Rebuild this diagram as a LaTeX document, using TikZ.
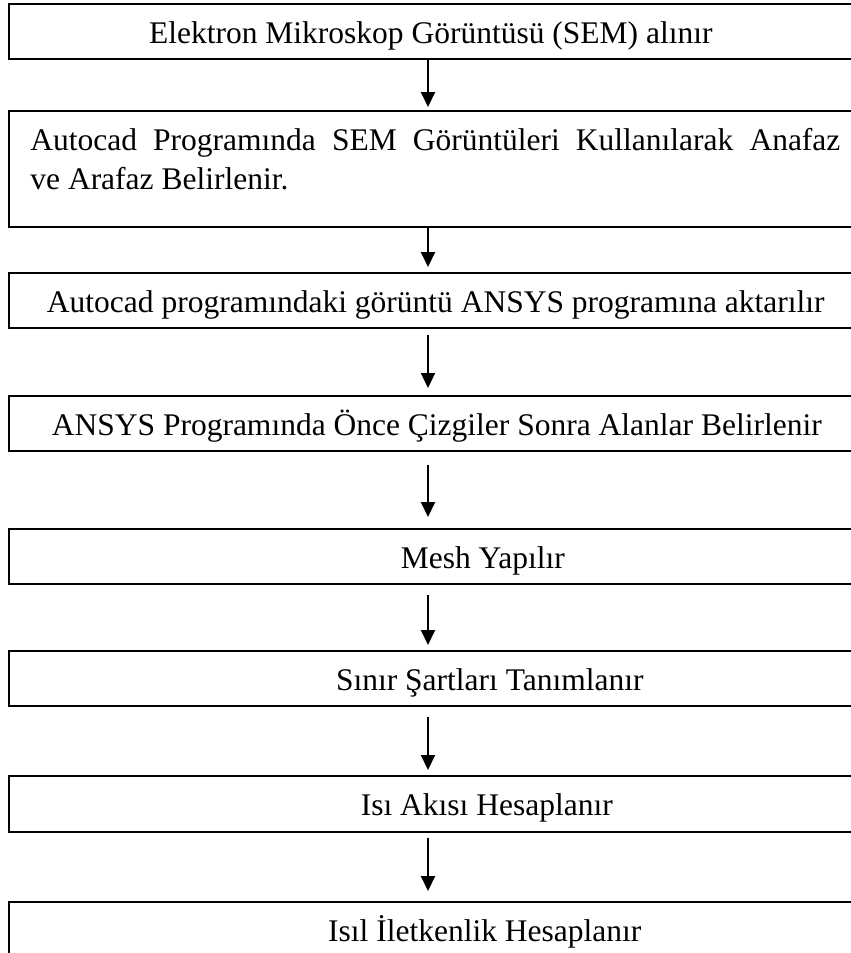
\documentclass[tikz,border=0pt]{standalone}
\usepackage{fontspec}
\setmainfont{Liberation Serif}
\usetikzlibrary{arrows.meta}

\tikzset{
  stepbox/.style={draw, line width=0.8pt, anchor=north west, inner sep=0pt,
    minimum width=426pt, minimum height=27.5pt},
  steptext/.style={anchor=base, inner sep=0pt},
  flow/.style={line width=1pt, -{Triangle[width=7pt,length=7.5pt]}}
}

\begin{document}
\begin{tikzpicture}[x=0.5pt,y=-0.5pt,font=\fontsize{15.75}{19.5}\selectfont]
    \useasboundingbox (0,0) rectangle (851,953);
    \coordinate (ax) at (428,0);
    % boxes
    \node[stepbox] (b1) at (8,3) {};
    \node[stepbox, minimum height=58pt] (b2) at (8,110) {};
    \node[stepbox] (b3) at (8,272) {};
    \node[stepbox] (b4) at (8,395) {};
    \node[stepbox] (b5) at (8,528) {};
    \node[stepbox] (b6) at (8,650) {};
    \node[stepbox, minimum height=28pt] (b7) at (8,775) {};
    \node[stepbox] (b8) at (8,901) {};
    % texts
    \node[steptext] (t1) at ([xshift=-2pt,yshift=-20pt]b1.north) {Elektron Mikroskop Görüntüsü (SEM) alınır};
    \node[anchor=north west, inner sep=0pt, text width=405pt, align=justify] (t2) at (30,128)
      {Autocad Programında SEM Görüntüleri Kullanılarak Anafaz\linebreak ve Arafaz Belirlenir.};
    \node[steptext] (t3) at ([xshift=0.5pt,yshift=-20pt]b3.north) {Autocad programındaki görüntü ANSYS programına aktarılır};
    \node[steptext] (t4) at ([xshift=1pt,yshift=-20pt]b4.north) {ANSYS Programında Önce Çizgiler Sonra Alanlar Belirlenir};
    \node[steptext] (t5) at ([xshift=24pt,yshift=-20pt]b5.north) {Mesh Yapılır};
    \node[steptext] (t6) at ([xshift=27.5pt,yshift=-20pt]b6.north) {Sınır Şartları Tanımlanır};
    \node[steptext] (t7) at ([xshift=26pt,yshift=-20pt]b7.north) {Isı Akısı Hesaplanır};
    \node[steptext] (t8) at ([xshift=25pt,yshift=-20pt]b8.north) {Isıl İletkenlik Hesaplanır};
    % arrows
    \draw[flow, shorten >=1.5pt] (b1.south -| ax) -- (b2.north -| ax);
    \draw[flow, shorten >=2.5pt] (b2.south -| ax) -- (b3.north -| ax);
    \draw[flow, shorten <=3pt, shorten >=3.5pt] (b3.south -| ax) -- (b4.north -| ax);
    \draw[flow, shorten <=6.5pt, shorten >=5.5pt] (b4.south -| ax) -- (b5.north -| ax);
    \draw[flow, shorten <=5pt, shorten >=2.5pt] (b5.south -| ax) -- (b6.north -| ax);
    \draw[flow, shorten <=5pt, shorten >=2.5pt] (b6.south -| ax) -- (b7.north -| ax);
    \draw[flow, shorten <=2.5pt, shorten >=5pt] (b7.south -| ax) -- (b8.north -| ax);
\end{tikzpicture}
\end{document}
